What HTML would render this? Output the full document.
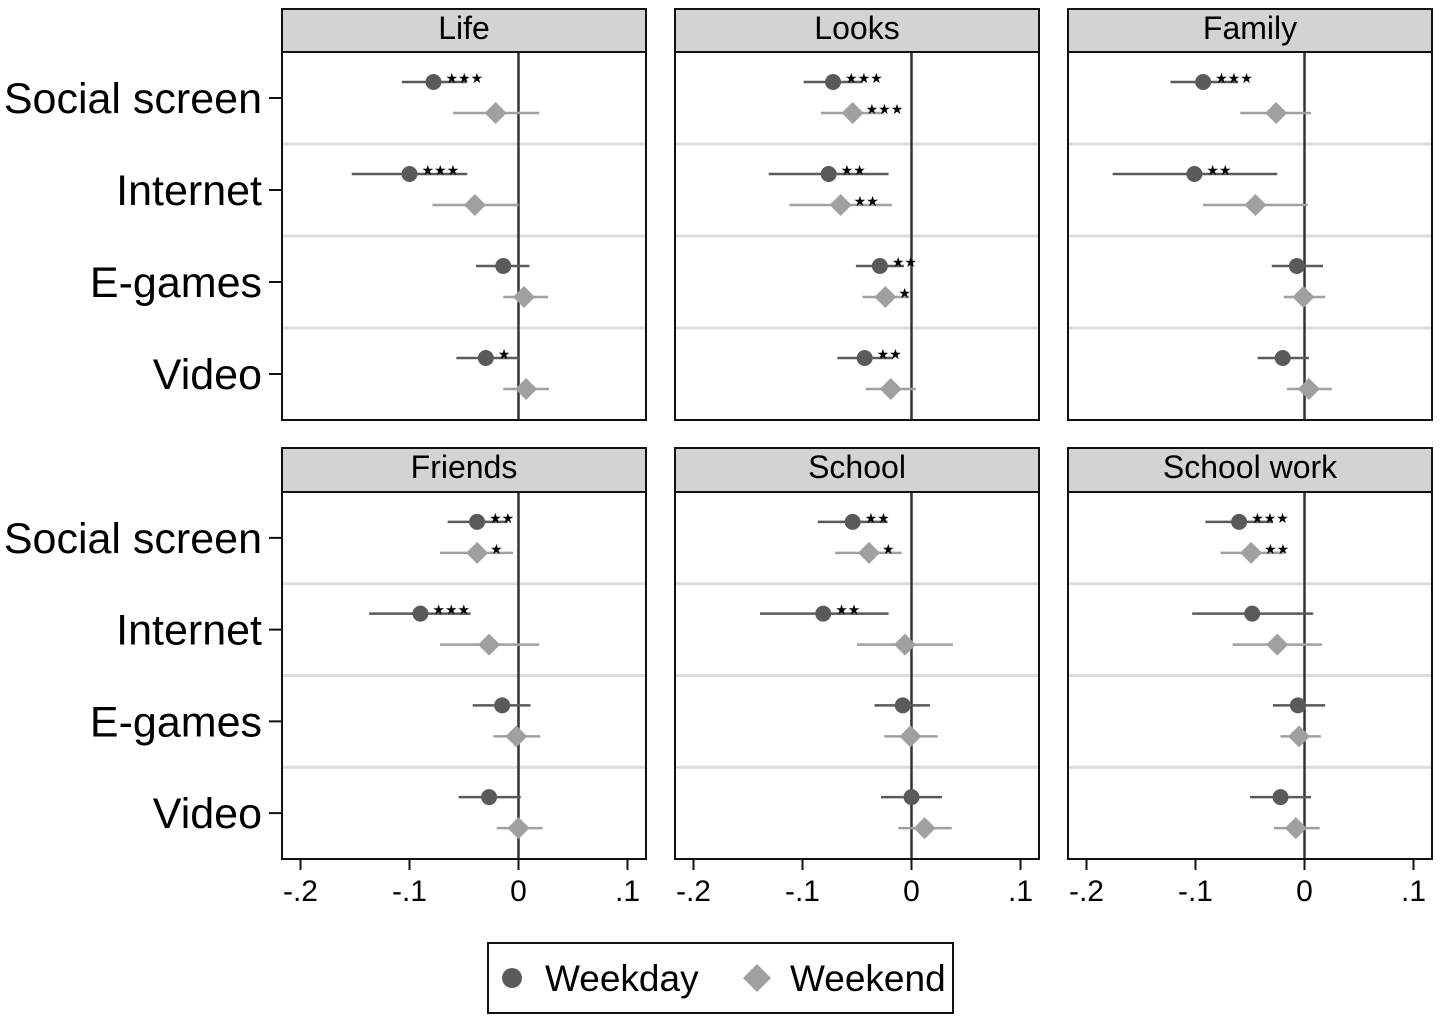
<!DOCTYPE html>
<html><head><meta charset="utf-8">
<style>
html,body{margin:0;padding:0;background:#fff;}
svg{display:block;font-family:"Liberation Sans",Arial,sans-serif;}
</style></head>
<body>
<svg id="chart" width="1441" height="1019" viewBox="0 0 1441 1019" xmlns="http://www.w3.org/2000/svg"></svg>
<script>
// ---- data ----
const panelTitles = ["Life","Looks","Family","Friends","School","School work"];
const categories = ["Social screen","Internet","E-games","Video"];
const xTicks = [-0.2,-0.1,0,0.1];
const xTickLabels = ["-.2","-.1","0",".1"];
// weekday estimates [panel][category]
const weekdayEst = [
 [-0.078,-0.100,-0.014,-0.030],
 [-0.072,-0.076,-0.029,-0.043],
 [-0.093,-0.101,-0.007,-0.020],
 [-0.038,-0.090,-0.015,-0.027],
 [-0.054,-0.081,-0.008,0.000],
 [-0.060,-0.048,-0.006,-0.022]];
const weekdayLo = [
 [-0.107,-0.153,-0.039,-0.057],
 [-0.099,-0.131,-0.051,-0.068],
 [-0.123,-0.176,-0.030,-0.043],
 [-0.065,-0.137,-0.042,-0.055],
 [-0.086,-0.139,-0.034,-0.028],
 [-0.091,-0.103,-0.029,-0.050]];
const weekdayHi = [
 [-0.048,-0.047,0.010,0.000],
 [-0.045,-0.021,-0.007,-0.017],
 [-0.061,-0.025,0.017,0.004],
 [-0.010,-0.044,0.011,0.002],
 [-0.022,-0.021,0.017,0.028],
 [-0.029,0.008,0.019,0.006]];
const weekdayStars = [
 ["***","***","","*"],
 ["***","**","**","**"],
 ["***","**","",""],
 ["**","***","",""],
 ["**","**","",""],
 ["***","","",""]];
const weekendEst = [
 [-0.021,-0.040,0.005,0.007],
 [-0.054,-0.065,-0.024,-0.019],
 [-0.026,-0.045,-0.001,0.004],
 [-0.038,-0.027,-0.002,0.000],
 [-0.039,-0.006,-0.001,0.012],
 [-0.049,-0.025,-0.005,-0.008]];
const weekendLo = [
 [-0.060,-0.079,-0.014,-0.014],
 [-0.083,-0.112,-0.045,-0.042],
 [-0.059,-0.093,-0.019,-0.016],
 [-0.072,-0.072,-0.023,-0.020],
 [-0.070,-0.050,-0.025,-0.012],
 [-0.077,-0.066,-0.022,-0.028]];
const weekendHi = [
 [0.019,0.000,0.027,0.028],
 [-0.025,-0.018,-0.002,0.004],
 [0.006,0.003,0.019,0.025],
 [-0.005,0.019,0.020,0.022],
 [-0.009,0.038,0.024,0.037],
 [-0.019,0.016,0.015,0.014]];
const weekendStars = [
 ["","","",""],
 ["***","**","*",""],
 ["","","",""],
 ["*","","",""],
 ["*","","",""],
 ["**","","",""]];

// ---- layout ----
const NS="http://www.w3.org/2000/svg";
const svg=document.getElementById('chart');
function mk(tag,attrs,parent){const e=document.createElementNS(NS,tag);for(const k in attrs)e.setAttribute(k,attrs[k]);(parent||svg).appendChild(e);return e;}
const panelLeft=[282,675,1068], panelW=364;
const rowTop=[[9,52,420],[448,492,859]];
const zeroOffset=236.5, pxPerUnit=1090;
const DARK="#5a5a5a", LIGHT="#a0a0a0";

for(let p=0;p<6;p++){
  const col=p%3,row=Math.floor(p/3);
  const L=panelLeft[col], R=L+panelW;
  const [hT,pT,pB]=rowTop[row];
  const xScale=v=>L+zeroOffset+v*pxPerUnit;
  const band=(pB-pT)/4;
  const yScale=i=>pT+band*(i+0.5);
  const g=mk('g',{});
  
  
  const h=mk('rect',{x:L,y:hT,width:panelW,height:pT-hT,fill:"#d3d3d3",stroke:"#111","stroke-width":2},g);
  
  
  const ht=mk('text',{x:(L+R)/2,y:hT+30,"text-anchor":"middle","font-size":32,fill:"#000"},g);
  ht.textContent=panelTitles[p];
  
  
  for(let i=1;i<4;i++){
    const s=mk('line',{x1:L,x2:R,y1:pT+band*i,y2:pT+band*i,stroke:"#dcdcdc","stroke-width":3},g);
    
    
  }
  const z=mk('line',{x1:xScale(0),x2:xScale(0),y1:pT,y2:pB,stroke:"#333","stroke-width":2.5},g);
  
  
  const fr=mk('rect',{x:L,y:pT,width:panelW,height:pB-pT,fill:"none",stroke:"#111","stroke-width":2},g);
  
  
  if(col===0){
    categories.forEach((c,i)=>{
      const y=yScale(i);
      mk('line',{x1:L-13,x2:L,y1:y,y2:y,stroke:"#111","stroke-width":2},g);
      const t=mk('text',{x:L-20,y:y+15,"text-anchor":"end","font-size":43,fill:"#000"},g);
      t.textContent=c;
      
      
    });
  }
  if(row===1){
    xTicks.forEach((v,i)=>{
      const x=xScale(v);
      mk('line',{x1:x,x2:x,y1:pB,y2:pB+11,stroke:"#111","stroke-width":2},g);
      const t=mk('text',{x:x,y:pB+42,"text-anchor":"middle","font-size":30,fill:"#000"},g);
      t.textContent=xTickLabels[i];
      
      
    });
  }
  categories.forEach((c,i)=>{
    const yc=yScale(i);
    const yd=yc-16;
    const l1=mk('line',{x1:xScale(weekdayLo[p][i]),x2:xScale(weekdayHi[p][i]),y1:yd,y2:yd,stroke:DARK,"stroke-width":2.5},g);
    
    
    const cx=xScale(weekdayEst[p][i]);
    const ci=mk('circle',{cx:cx,cy:yd,r:8,fill:DARK},g);
    
    
    if(weekdayStars[p][i]){
      const st=mk('text',{x:cx+12,y:yd+1,"font-size":14,fill:"#000"},g);
      st.textContent=weekdayStars[p][i].replace(/\*/g,"★");
      
      
    }
    const ye=yc+15;
    const l2=mk('line',{x1:xScale(weekendLo[p][i]),x2:xScale(weekendHi[p][i]),y1:ye,y2:ye,stroke:LIGHT,"stroke-width":2.5},g);
    
    
    const dx=xScale(weekendEst[p][i]);
    const d=mk('polygon',{points:`${dx},${ye-11} ${dx+11},${ye} ${dx},${ye+11} ${dx-11},${ye}`,fill:LIGHT},g);
    
    
    if(weekendStars[p][i]){
      const st=mk('text',{x:dx+13,y:ye+1,"font-size":14,fill:"#000"},g);
      st.textContent=weekendStars[p][i].replace(/\*/g,"★");
      
      
    }
  });
}
const lg=mk('g',{});


mk('rect',{x:488,y:943,width:465,height:70,fill:"#fff",stroke:"#111","stroke-width":2},lg);
const lc=mk('circle',{cx:512,cy:978,r:10,fill:DARK},lg);


const lt1=mk('text',{x:545,y:991,"font-size":37,fill:"#000"},lg);
lt1.textContent="Weekday";


const ld=mk('polygon',{points:"757,964 771,978 757,992 743,978",fill:LIGHT},lg);


const lt2=mk('text',{x:790,y:991,"font-size":37,fill:"#000"},lg);
lt2.textContent="Weekend";


</script>
</body></html>
